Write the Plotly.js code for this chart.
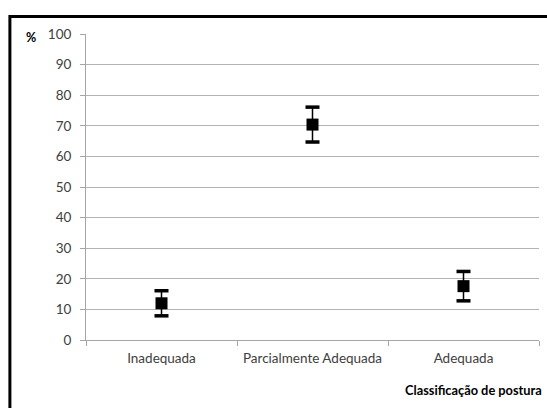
<!DOCTYPE html>
<html>
<head>
<meta charset="utf-8">
<script src="https://cdn.plot.ly/plotly-3.0.1.min.js"></script>
<style>
html,body{margin:0;padding:0;background:#fff;}
#chart{width:547px;height:408px;}
</style>
</head>
<body>
<div id="chart"></div>
<script>
const categories = ["Inadequada", "Parcialmente Adequada", "Adequada"];
const values = [12.0, 70.4, 17.6];
const errors = [4.1, 5.7, 4.8];
const yTicks = [0, 10, 20, 30, 40, 50, 60, 70, 80, 90, 100];

const upper = values.map((v, i) => v + errors[i]);
const lower = values.map((v, i) => v - errors[i]);

const font = "Lato, 'Open Sans', sans-serif";

const traces = [
  {
    type: "scatter", mode: "markers", x: categories, y: values,
    marker: {symbol: "square", size: 12, color: "#000"},
    error_y: {type: "data", array: errors, visible: true, color: "#000", thickness: 1.5, width: 0},
    hoverinfo: "x+y", showlegend: false
  },
  {
    type: "scatter", mode: "markers", x: categories, y: upper,
    marker: {symbol: "line-ew", size: 10, line: {width: 3.5, color: "#000"}},
    hoverinfo: "skip", showlegend: false
  },
  {
    type: "scatter", mode: "markers", x: categories, y: lower,
    marker: {symbol: "line-ew", size: 10, line: {width: 3.5, color: "#000"}},
    hoverinfo: "skip", showlegend: false
  }
];

const layout = {
  width: 547, height: 408,
  margin: {l: 86, r: 8, t: 34, b: 68},
  paper_bgcolor: "#fff", plot_bgcolor: "#fff",
  font: {family: font, size: 13.5, color: "#404040"},
  showlegend: false,
  xaxis: {
    type: "category", range: [-0.5, 2.5],
    showgrid: false, zeroline: false,
    showline: true, linecolor: "#a6a6a6", linewidth: 1,
    ticks: "outside", tickson: "boundaries", ticklen: 5, tickcolor: "#a6a6a6",
    ticklabelstandoff: 6,
    tickfont: {family: font, size: 13.5, color: "#404040"},
    fixedrange: true
  },
  yaxis: {
    range: [0, 100], tickvals: yTicks, ticktext: yTicks.map(String),
    showgrid: true, gridcolor: "#b3b3b3", gridwidth: 1,
    zeroline: false, showline: true, linecolor: "#a6a6a6", linewidth: 1,
    ticks: "outside", ticklen: 5, tickcolor: "#a6a6a6",
    ticklabelstandoff: 6,
    tickfont: {family: font, size: 13.5, color: "#404040"},
    fixedrange: true
  },
  annotations: [
    {text: "<b>%</b>", xref: "paper", yref: "paper", x: -0.122, y: 0.99,
     xanchor: "center", yanchor: "middle", showarrow: false,
     font: {family: font, size: 12.5, color: "#000"}},
    {text: "<b>Classificação de postura</b>", xref: "paper", yref: "paper", x: 1.012, y: -0.165,
     xanchor: "right", yanchor: "middle", showarrow: false,
     font: {family: font, size: 12.8, color: "#000"}}
  ],
  shapes: [
    {type: "rect", xref: "paper", yref: "paper", x0: -0.168, x1: 1.2, y0: -0.4, y1: 1.0575,
     line: {color: "#000", width: 3}, fillcolor: "rgba(0,0,0,0)", layer: "above"}
  ]
};

Plotly.newPlot("chart", traces, layout, {displayModeBar: false, staticPlot: true});
</script>
</body>
</html>
